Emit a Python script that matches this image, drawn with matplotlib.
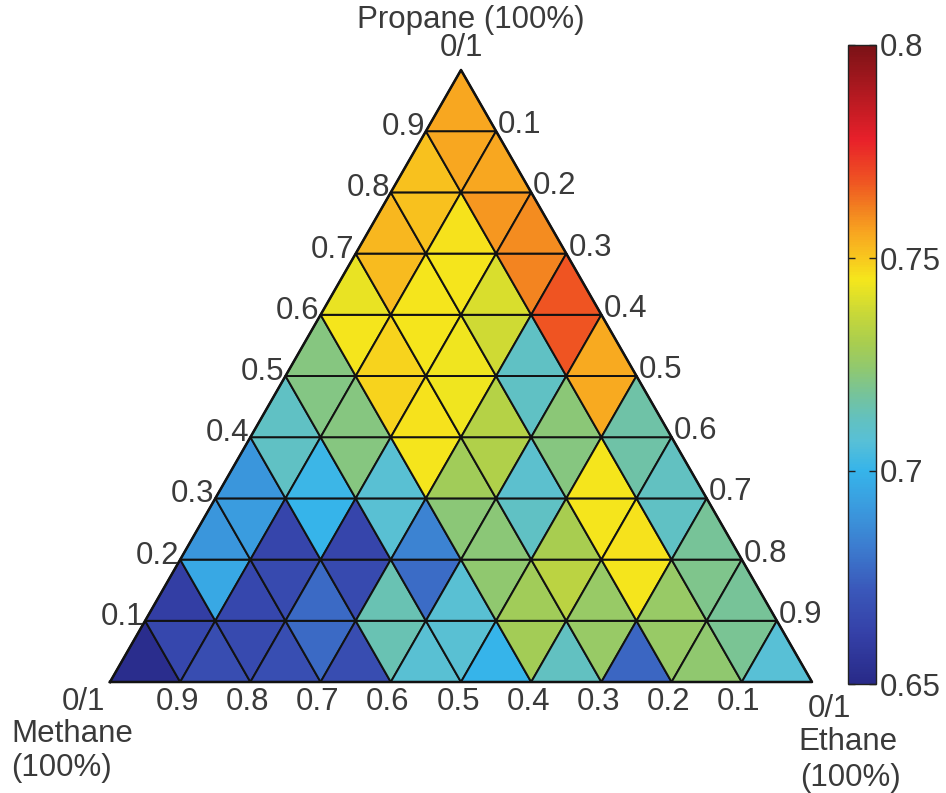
import numpy as np
import matplotlib
matplotlib.use("Agg")
import matplotlib.pyplot as plt
from matplotlib.collections import PolyCollection
from matplotlib.colors import LinearSegmentedColormap, Normalize

# ---- data: one list per row (row 0 = bottom, propane 0-0.1), left to right,
#      alternating upward / downward triangles
row_0 = [0.652, 0.665, 0.667, 0.666, 0.668, 0.677, 0.667, 0.714, 0.708, 0.708,
         0.700, 0.729, 0.712, 0.726, 0.676, 0.726, 0.724, 0.719, 0.707]
row_1 = [0.661, 0.696, 0.665, 0.666, 0.677, 0.666, 0.714, 0.678, 0.708, 0.724,
         0.728, 0.734, 0.726, 0.745, 0.726, 0.720, 0.718]
row_2 = [0.690, 0.692, 0.664, 0.700, 0.664, 0.708, 0.684, 0.723, 0.723, 0.711,
         0.730, 0.745, 0.746, 0.711, 0.718]
row_3 = [0.690, 0.711, 0.701, 0.722, 0.708, 0.745, 0.728, 0.732, 0.709, 0.722,
         0.745, 0.716, 0.712]
row_4 = [0.711, 0.721, 0.722, 0.748, 0.746, 0.744, 0.733, 0.711, 0.723, 0.755, 0.716]
row_5 = [0.722, 0.745, 0.748, 0.745, 0.744, 0.738, 0.711, 0.768, 0.755]
row_6 = [0.743, 0.752, 0.745, 0.745, 0.740, 0.761, 0.768]
row_7 = [0.753, 0.751, 0.746, 0.758, 0.760]
row_8 = [0.751, 0.756, 0.756]
row_9 = [0.756]
rows = [row_0, row_1, row_2, row_3, row_4, row_5, row_6, row_7, row_8, row_9]

edge_ticks = [0.1, 0.2, 0.3, 0.4, 0.5, 0.6, 0.7, 0.8, 0.9]
edge_tick_labels = ["0.1", "0.2", "0.3", "0.4", "0.5", "0.6", "0.7", "0.8", "0.9"]
corner_label = "0/1"
methane_label = ["Methane", "(100%)"]
ethane_label = ["Ethane", "(100%)"]
propane_label = "Propane (100%)"
cbar_ticks = [0.65, 0.7, 0.75, 0.8]
cbar_tick_labels = ["0.65", "0.7", "0.75", "0.8"]
vmin, vmax = 0.65, 0.80

# ---- colormap (jet-like, as in the figure)
stops = [(0.650, "#282a88"), (0.662, "#3541a8"), (0.672, "#3a58ba"),
         (0.682, "#3c7ccf"), (0.692, "#3a9ddf"), (0.700, "#36b4ea"),
         (0.707, "#58c0d6"), (0.712, "#62c1c0"), (0.718, "#76c39a"),
         (0.724, "#90c870"), (0.730, "#a8cd50"), (0.737, "#c8d838"),
         (0.745, "#f5e71c"), (0.750, "#f8c81e"), (0.756, "#f8a620"),
         (0.762, "#f27f20"), (0.768, "#ef5522"), (0.778, "#e8202a"),
         (0.800, "#7a1216")]
cmap = LinearSegmentedColormap.from_list(
    "tern", [((v - vmin) / (vmax - vmin), c) for v, c in stops])
norm = Normalize(vmin, vmax)

plt.rcParams["font.family"] = ["Liberation Sans", "DejaVu Sans"]
TXT = "#3a3a3a"
FS = 22.5

W, H = 946, 793
fig = plt.figure(figsize=(W / 100, H / 100), dpi=100)
ax = fig.add_axes([0, 0, 1, 1])
# pixel placement of the unit triangle
px_x0, px_sx = 110.0, 702.0          # left corner x, px per unit (x)
px_yb, px_sy = 111.0, 706.7          # bottom edge (from fig bottom), px per unit (y)
ax.set_xlim(-px_x0 / px_sx, (W - px_x0) / px_sx)
ax.set_ylim(-px_yb / px_sy, (H - px_yb) / px_sy)
ax.axis("off")

S3 = np.sqrt(3) / 2


def tern(p, e):
    """propane p, ethane e -> cartesian"""
    return (e + p / 2.0, p * S3)


n = 10
polys, vals = [], []
for r, rv in enumerate(rows):
    k = 0
    for j in range(n - r):
        # upward
        polys.append([tern(r / n, j / n), tern(r / n, (j + 1) / n), tern((r + 1) / n, j / n)])
        vals.append(rv[k]); k += 1
        if j < n - r - 1:
            polys.append([tern(r / n, (j + 1) / n), tern((r + 1) / n, (j + 1) / n),
                          tern((r + 1) / n, j / n)])
            vals.append(rv[k]); k += 1

pc = PolyCollection(polys, array=np.array(vals), cmap=cmap, norm=norm,
                    edgecolors="#121212", linewidths=1.4)
ax.add_collection(pc)
outline = [tern(0, 0), tern(0, 1), tern(1, 0), tern(0, 0)]
ax.plot([q[0] for q in outline], [q[1] for q in outline], color="#121212", lw=1.8)

dpx = 1.0 / px_sy   # one pixel in y data units
dpxx = 1.0 / px_sx

# left edge labels (propane)
for t, lab in zip(edge_ticks, edge_tick_labels):
    x, y = tern(t, 0)
    ax.text(x - 1 * dpxx, y + 4 * dpx, lab, ha="right", va="center", fontsize=FS, color=TXT)
# right edge labels (ethane)
for t, lab in zip(edge_ticks, edge_tick_labels):
    x, y = tern(1 - t, t)
    ax.text(x + 2 * dpxx, y + 6 * dpx, lab, ha="left", va="center", fontsize=FS, color=TXT)
# bottom labels (methane)
for t, lab in zip(edge_ticks, edge_tick_labels):
    x, y = tern(0, 1 - t)
    ax.text(x - 3 * dpxx, y - 5 * dpx, lab, ha="center", va="top", fontsize=FS, color=TXT)

# corners
x, y = tern(1, 0)
ax.text(x, y + 7 * dpx, corner_label, ha="center", va="bottom", fontsize=FS, color=TXT)
ax.text(x + 10 * dpxx, y + 35 * dpx, propane_label, ha="center", va="bottom", fontsize=FS, color=TXT)
x, y = tern(0, 0)
ax.text(x - 5 * dpxx, y - 5 * dpx, corner_label, ha="right", va="top", fontsize=FS, color=TXT)
ax.text(x - 99 * dpxx, y - 37 * dpx, methane_label[0], ha="left", va="top", fontsize=FS, color=TXT)
ax.text(x - 99 * dpxx, y - 71 * dpx, methane_label[1], ha="left", va="top", fontsize=FS, color=TXT)
x, y = tern(0, 1)
ax.text(x + 17 * dpxx, y - 12 * dpx, corner_label, ha="center", va="top", fontsize=FS, color=TXT)
ax.text(x - 14 * dpxx, y - 45 * dpx, ethane_label[0], ha="left", va="top", fontsize=FS, color=TXT)
ax.text(x - 12 * dpxx, y - 81 * dpx, ethane_label[1], ha="left", va="top", fontsize=FS, color=TXT)

# colorbar
cb_l, cb_r, cb_t, cb_b = 848, 876, 45, 684
cax = fig.add_axes([cb_l / W, (H - cb_b) / H, (cb_r - cb_l) / W, (cb_b - cb_t) / H])
cb = fig.colorbar(pc, cax=cax, ticks=cbar_ticks)
cb.ax.set_yticklabels(cbar_tick_labels)
cb.ax.tick_params(direction="in", left=True, right=True, length=5, width=1,
                  labelsize=FS, labelcolor=TXT, pad=3, color="#222222")
cb.outline.set_edgecolor("#222222")
cb.outline.set_linewidth(1.0)

fig.savefig("out.png", dpi=100)
